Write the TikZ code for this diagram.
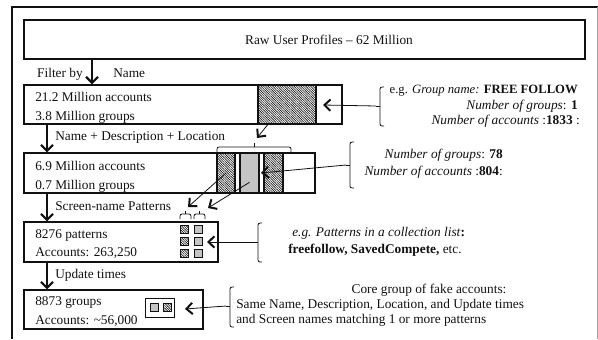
\documentclass[tikz,border=0pt]{standalone}
\usepackage{fontspec}
\setmainfont{Liberation Serif}
\usetikzlibrary{arrows.meta,fit,patterns.meta}
\definecolor{ink}{HTML}{111111}
\definecolor{shade}{HTML}{C4C4C4}
\definecolor{rim}{HTML}{A0A0A0}
\tikzset{
  frame/.style={draw=ink, line width=2.2pt},
  box/.style={draw=ink, line width=1.1pt, inner sep=0pt},
  hatch/.style={draw=ink, line width=0.8pt, inner sep=0pt, pattern={Lines[angle=-45,distance=1.25pt,line width=0.45pt]}, pattern color=ink},
  grey/.style={draw=ink, line width=0.8pt, inner sep=0pt, fill=shade},
  flow/.style={draw=ink, line width=1.5pt, -{Straight Barb[length=4.5pt,width=9pt,line width=1.6pt]}},
  point/.style={draw=ink, line width=0.6pt, -{Straight Barb[length=4.5pt,width=8.5pt,line width=1.5pt]}},
  brk/.style={draw=ink, line width=0.6pt, rounded corners=1.5pt},
  txt/.style={text=ink, inner sep=0pt, text height=6.8pt, text depth=2pt, font=\fontsize{10}{12}\selectfont},
}

\begin{document}
\begin{tikzpicture}[x=0.75pt,y=-0.75pt]
  \useasboundingbox (0,0) rectangle (598,339);
  \draw[frame] (12,339) -- (12,7) -- (598,7);
  \draw[rim, line width=0.6pt] (597,7) -- (597,339);

  % stages
  \node[box, fit={(24,20) (585,59)}] (raw) {};
  \node[box, fit={(24,85) (342,124)}] (b1) {};
  \node[box, fit={(24,153) (315,193)}] (b2) {};
  \node[box, fit={(24,222) (218,262)}] (b3) {};
  \node[box, fit={(24,290) (203,329)}] (b4) {};

  \node[txt] (rawt) at (329,41) {Raw User Profiles -- 62 Million};
  \node[txt,anchor=west] (b1a) at (35,98) {21.2 Million accounts};
  \node[txt,anchor=west] (b1g) at (35,117) {3.8 Million groups};
  \node[txt,anchor=west] (b2a) at (35,167) {6.9 Million accounts};
  \node[txt,anchor=west] (b2g) at (35,186) {0.7 Million groups};
  \node[txt,anchor=west] (b3p) at (35,235) {8276 patterns};
  \node[txt,anchor=west] (b3a) at (35,253) {Accounts: 263,250};
  \node[txt,anchor=west] (b4g) at (35,302) {8873 groups};
  \node[txt,anchor=west] (b4a) at (35,321) {Accounts: \textasciitilde56,000};

  % filters
  \coordinate (fa) at (92,0);
  \coordinate (fb) at (47,0);
  \draw[flow] (fa |- raw.south) -- (fa |- b1.north);
  \draw[flow] (fb |- b1.south) -- (fb |- b2.north);
  \draw[flow] (fb |- b2.south) -- (fb |- b3.north);
  \draw[flow] (fb |- b3.south) -- (fb |- b4.north);
  \node[txt,anchor=east] (fl1) at (83,74) {Filter by};
  \node[txt,anchor=west] (fl2) at (113,74) {Name};
  \node[txt,anchor=west] (fl3) at (55,137) {Name + Description + Location};
  \node[txt,anchor=west] (fl4) at (55,207) {Screen-name Patterns};
  \node[txt,anchor=west] (fl5) at (55,275) {Update times};

  % groups inside the stages
  \node[hatch, fit={(258,85) (316,124)}] (h1) {};
  \node[hatch, fit={(217,153) (235,193)}] (h2) {};
  \node[grey, fit={(240,153) (259,193)}] (g2) {};
  \node[hatch, fit={(264,153) (283,193)}] (h3) {};
  \foreach \y [count=\i] in {225,237,249} {
    \node[hatch, line width=0.6pt, fit={(180,\y) (188,\y+8)}] (ps\i) {};
    \node[grey, line width=0.6pt, fit={(194,\y) (202,\y+8)}] (pg\i) {};
  }
  \node[draw=ink, line width=0.7pt, inner sep=0pt, fit={(145,298) (174,317)}] (core) {};
  \node[grey, line width=0.6pt, fit={(150,303) (158,311)}] (cg) {};
  \node[hatch, line width=0.6pt, fit={(163,303) (171,311)}] (cs) {};

  % brackets
  \draw[brk] (384,87) -- (380,87) -- (380,126) -- (384,126);
  \coordinate (ka) at (376,106);
  \draw[brk] (380,106) -- (ka);
  \draw[brk] (354,142) -- (350,142) -- (350,188) -- (354,188);
  \coordinate (kb) at (346,165);
  \draw[brk] (350,165) -- (kb);
  \draw[brk] (262,223) -- (258,223) -- (258,262) -- (262,262);
  \coordinate (kc) at (254,242);
  \draw[brk] (258,242) -- (kc);
  \draw[brk] (234,287) -- (230,287) -- (230,327) -- (234,327);
  \coordinate (kd) at (226,306);
  \draw[brk] (230,306) -- (kd);
  \draw[brk] (217,152) -- (217,147) -- (291,147) -- (291,152);
  \coordinate (kt) at (254,143);
  \draw[brk] (254,147) -- (kt);
  \draw[brk] (180,219) -- (180,214) -- (191,214) -- (191,219);
  \draw[brk] (185.5,214) -- (185.5,211);
  \draw[brk] (194,219) -- (194,214) -- (205,214) -- (205,219);
  \draw[brk] (199.5,214) -- (199.5,211);

  % pointers
  \coordinate (pa) at (323,105);
  \coordinate (pt) at (257,138);
  \coordinate (pb) at (261,173);
  \coordinate (pc) at (207,242);
  \coordinate (pd) at (185,309);
  \coordinate (q1) at (188,207);
  \coordinate (q2) at (208,208);
  \draw[point] (ka) -- (pa);
  \draw[point] (h1.south -| 268,0) -- (pt);
  \draw[point] (kb) -- (pb);
  \draw[point] (h2.center) -- (q1);
  \draw[point] ([yshift=-7pt]g2.center) -- (q2);
  \draw[point] (kc) -- (pc);
  \draw[point] (kd) -- (pd);

  % notes
  \node[txt,anchor=east,font=\fontsize{9.5}{12}\selectfont] (na1) at (578,90) {e.g. \textit{Group name:} \textbf{FREE FOLLOW}};
  \node[txt,anchor=east] (na2) at (578,106) {\textit{Number of groups}: \textbf{1}};
  \node[txt,anchor=east] (na3) at (580,121) {\textit{Number of accounts} :\textbf{1833} :};
  \node[txt,anchor=east] (nb1) at (503,155) {\textit{Number of groups}: \textbf{78}};
  \node[txt,anchor=east] (nb2) at (503,172) {\textit{Number of accounts} :\textbf{804}:};
  \node[txt,anchor=west] (nc1) at (292,233) {\textit{e.g. Patterns in a collection list}\textbf{:}};
  \node[txt,anchor=west] (nc2) at (288,250) {\textbf{freefollow, SavedCompete,} etc.};
  \node[txt] (nd1) at (429,290) {Core group of fake accounts:};
  \node[txt,anchor=west] (nd2) at (236,305) {Same Name, Description, Location, and Update times};
  \node[txt,anchor=west] (nd3) at (236,320) {and Screen names matching 1 or more patterns};
\end{tikzpicture}
\end{document}
